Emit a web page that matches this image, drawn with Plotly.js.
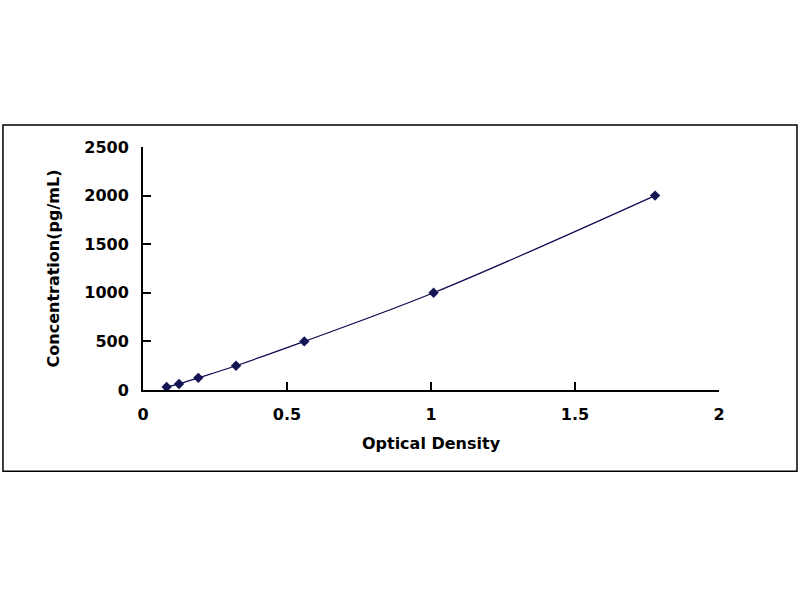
<!DOCTYPE html>
<html>
<head>
<meta charset="utf-8">
<script src="https://cdn.plot.ly/plotly-3.0.1.min.js"></script>
<style>html,body{margin:0;padding:0;background:#fff;}#chart{width:800px;height:600px;}</style>
</head>
<body>
<div id="chart"></div>
<script>
const opticalDensity = [0.082, 0.125, 0.192, 0.323, 0.560, 1.009, 1.778];
const concentration = [31.25, 62.5, 125, 250, 500, 1000, 2000];
const xTicks = [0, 0.5, 1, 1.5, 2];
const xTickLabels = ['0', '0.5', '1', '1.5', '2'];
const yTicks = [0, 500, 1000, 1500, 2000, 2500];
const yTickLabels = ['0', '500', '1000', '1500', '2000', '2500'];

const font = {family: 'DejaVu Sans', size: 16, color: '#000'};
const trace = {
  x: opticalDensity, y: concentration, type: 'scatter', mode: 'lines+markers',
  line: {color: '#0a0a50', width: 1.2, shape: 'spline'},
  marker: {symbol: 'diamond', size: 8, color: '#141452'},
  showlegend: false, hoverinfo: 'none', cliponaxis: false
};
const layout = {
  width: 800, height: 600,
  margin: {l: 143, r: 81, t: 147, b: 209.5},
  paper_bgcolor: '#fff', plot_bgcolor: '#fff',
  font: font,
  xaxis: {
    range: [0, 2], tickvals: xTicks, ticktext: xTickLabels,
    ticks: 'inside', ticklen: 8, tickwidth: 2, tickcolor: '#000',
    showline: true, linecolor: '#000', linewidth: 2, showgrid: false, zeroline: false,
    tickfont: {family: 'DejaVu Sans', size: 16, color: '#000', weight: 'bold'},
    ticklabelstandoff: 9,
    title: {text: '<b>Optical Density</b>', font: {family: 'DejaVu Sans', size: 16, color: '#000'}, standoff: 15}
  },
  yaxis: {
    range: [0, 2500], tickvals: yTicks, ticktext: yTickLabels,
    ticks: 'inside', ticklen: 8, tickwidth: 2, tickcolor: '#000',
    showline: true, linecolor: '#000', linewidth: 2, showgrid: false, zeroline: false,
    tickfont: {family: 'DejaVu Sans', size: 16, color: '#000', weight: 'bold'},
    ticklabelstandoff: 9,
    title: {text: '<b>Concentration(pg/mL)</b>', font: {family: 'DejaVu Sans', size: 16, color: '#000'}, standoff: 21}
  },
  shapes: [{
    type: 'rect', xref: 'paper', yref: 'paper',
    x0: -0.2431, x1: 1.1354, y0: -0.3347, y1: 1.0903,
    line: {color: '#000', width: 1.5}, fillcolor: 'rgba(0,0,0,0)', layer: 'below'
  }]
};
Plotly.newPlot('chart', [trace], layout, {staticPlot: true});
</script>
</body>
</html>
